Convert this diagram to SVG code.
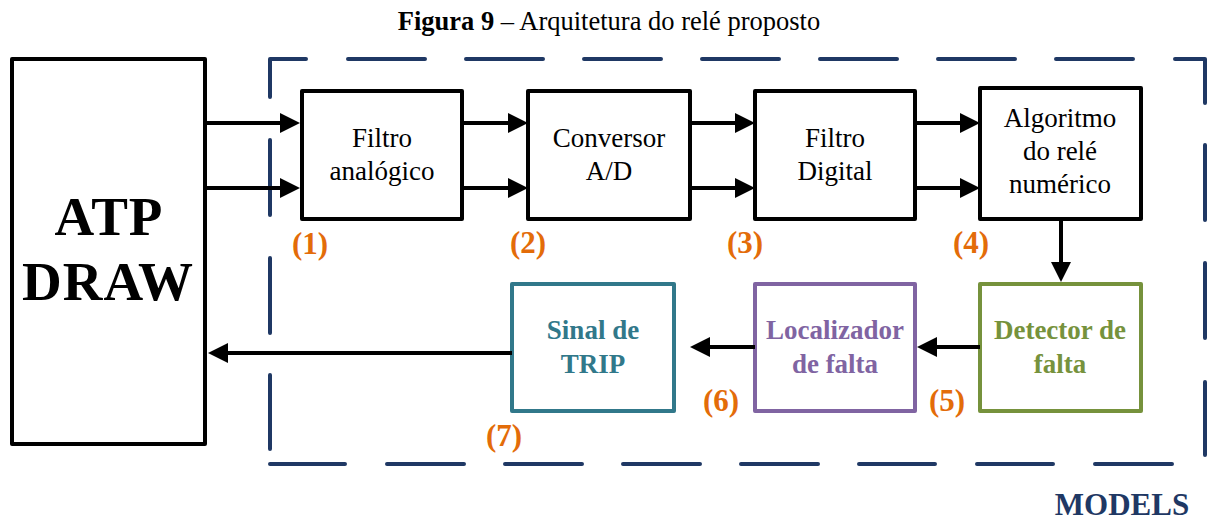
<svg xmlns="http://www.w3.org/2000/svg" width="1209" height="520" viewBox="0 0 1209 520">
<defs>
<style>
.bg{fill:#ffffff}
.box{fill:#ffffff;stroke:#000000;stroke-width:4;stroke-linejoin:round}
.teal{fill:#ffffff;stroke:#31788A;stroke-width:4;stroke-linejoin:round}
.purple{fill:#ffffff;stroke:#8064A2;stroke-width:4;stroke-linejoin:round}
.green{fill:#ffffff;stroke:#76923C;stroke-width:4;stroke-linejoin:round}
.dash{fill:none;stroke:#1F3864;stroke-width:4;stroke-linecap:round;stroke-linejoin:round}
.conn{fill:none;stroke:#000000;stroke-width:4}
text{font-family:"Liberation Serif","Times New Roman",serif}
.t{font-size:27px;fill:#000000;text-anchor:middle}
.tb{font-size:27px;font-weight:bold;text-anchor:middle}
.big{font-size:55px;font-weight:bold;fill:#000000;text-anchor:middle;letter-spacing:1px}
.num{font-size:31px;font-weight:bold;fill:#E36C09;text-anchor:middle}
.title{font-size:26.5px;fill:#000000;text-anchor:middle}
.models{font-size:31px;font-weight:bold;fill:#1F3864;text-anchor:middle}
</style>
<marker id="ah" viewBox="0 0 20 20" refX="10" refY="10" markerWidth="20" markerHeight="20" markerUnits="userSpaceOnUse" orient="auto">
<path d="M0,0 L20,10 L0,20 Z" fill="#000000"/>
</marker>
</defs>
<rect class="bg" x="0" y="0" width="1209" height="520"/>

<text class="title" x="609" y="30"><tspan font-weight="bold">Figura 9</tspan> – Arquitetura do relé proposto</text>

<g id="models-boundary">
<path class="dash" d="M270,97 L270,59 L306,59 M348,59 L425,59 M466,59 L543,59 M584,59 L661,59 M702,59 L779,59 M820,59 L897,59 M938,59 L1015,59 M1056,59 L1133,59 M1175,59 L1205,59 L1205,103 M1205,145 L1205,220 M1205,263 L1205,338 M1205,382 L1205,455 M1172,464 L1095,464 M1053,464 L977,464 M935,464 L859,464 M818,464 L741,464 M700,464 L623,464 M582,464 L505,464 M464,464 L387,464 M345,464 L270,464 M270,449 L270,375 M270,333 L270,258 M270,215 L270,140"/>
<text class="models" x="1122" y="515">MODELS</text>
</g>

<g id="atp">
<rect class="box" x="12" y="59" width="193" height="385"/>
<text class="big" x="109" y="235">ATP</text>
<text class="big" x="108" y="300">DRAW</text>
</g>

<g id="filtro-analogico">
<rect class="box" x="302" y="91" width="160" height="128"/>
<text class="t" x="382" y="147">Filtro</text>
<text class="t" x="382" y="180">analógico</text>
</g>

<g id="conversor">
<rect class="box" x="528" y="91" width="162" height="128"/>
<text class="t" x="609" y="147">Conversor</text>
<text class="t" x="609" y="180">A/D</text>
</g>

<g id="filtro-digital">
<rect class="box" x="755" y="91" width="160" height="128"/>
<text class="t" x="835" y="147">Filtro</text>
<text class="t" x="835" y="180">Digital</text>
</g>

<g id="algoritmo">
<rect class="box" x="980" y="88" width="161" height="131"/>
<text class="t" x="1060" y="127">Algoritmo</text>
<text class="t" x="1060" y="160">do relé</text>
<text class="t" x="1060" y="193">numérico</text>
</g>

<g id="detector">
<rect class="green" x="980" y="284" width="161" height="127"/>
<text class="tb" fill="#76923C" x="1060" y="339">Detector de</text>
<text class="tb" fill="#76923C" x="1060" y="373">falta</text>
</g>

<g id="localizador">
<rect class="purple" x="755" y="284" width="160" height="127"/>
<text class="tb" fill="#8064A2" x="835" y="339">Localizador</text>
<text class="tb" fill="#8064A2" x="835" y="373">de falta</text>
</g>

<g id="sinal-trip">
<rect class="teal" x="512" y="284" width="162" height="127"/>
<text class="tb" fill="#31788A" x="593" y="339">Sinal de</text>
<text class="tb" fill="#31788A" x="593" y="373">TRIP</text>
</g>

<g id="connectors">
<path class="conn" marker-end="url(#ah)" d="M206,123 L290,123"/>
<path class="conn" marker-end="url(#ah)" d="M206,188 L290,188"/>
<path class="conn" marker-end="url(#ah)" d="M462,123 L518,123"/>
<path class="conn" marker-end="url(#ah)" d="M462,188 L518,188"/>
<path class="conn" marker-end="url(#ah)" d="M690,123 L745,123"/>
<path class="conn" marker-end="url(#ah)" d="M690,188 L745,188"/>
<path class="conn" marker-end="url(#ah)" d="M915,123 L970,123"/>
<path class="conn" marker-end="url(#ah)" d="M915,188 L970,188"/>
<path class="conn" marker-end="url(#ah)" d="M1061,219 L1061,272"/>
<path class="conn" marker-end="url(#ah)" d="M980,347 L927,347"/>
<path class="conn" marker-end="url(#ah)" d="M755,347 L700,347"/>
<path class="conn" marker-end="url(#ah)" d="M512,353 L218,353"/>
</g>

<g id="labels">
<text class="num" x="310" y="254">(1)</text>
<text class="num" x="528" y="253">(2)</text>
<text class="num" x="745" y="253">(3)</text>
<text class="num" x="971" y="253">(4)</text>
<text class="num" x="947" y="411">(5)</text>
<text class="num" x="721" y="411">(6)</text>
<text class="num" x="504" y="446">(7)</text>
</g>
</svg>
